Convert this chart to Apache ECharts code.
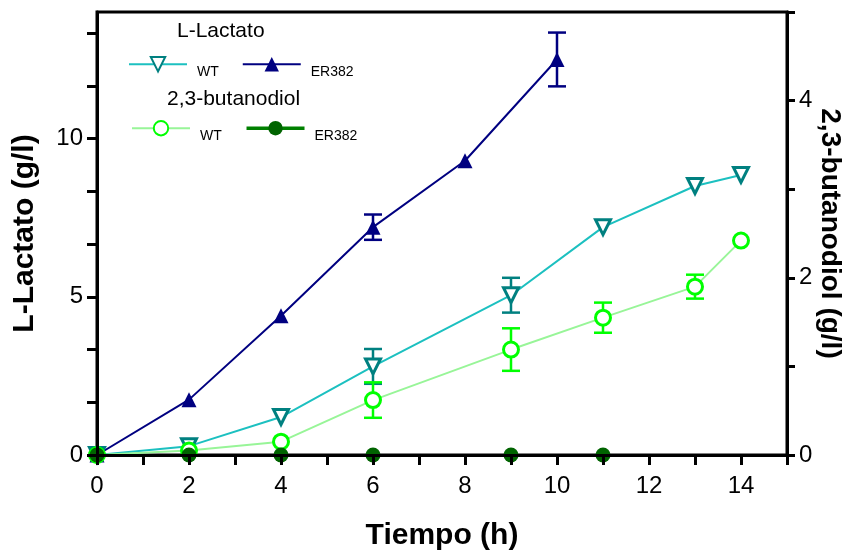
<!DOCTYPE html>
<html>
<head>
<meta charset="utf-8">
<script src="https://cdn.jsdelivr.net/npm/echarts@6/dist/echarts.min.js"></script>
<style>
  html, body { margin: 0; padding: 0; background: #fff; }
  #main { width: 850px; height: 552px; }
</style>
</head>
<body>
<div id="main"></div>
<script>
// time points (h)
var timeWT = [0, 2, 4, 6, 9, 11, 13, 14];
var timeLacER = [0, 2, 4, 6, 8, 10];
var timeButER = [0, 2, 4, 6, 9, 11];

// L-Lactato (g/l)
var lacWT = [0, 0.28, 1.2, 2.8, 5.05, 7.2, 8.5, 8.85];
var lacWTErr = [0, 0, 0, 0.55, 0.55, 0, 0, 0];
var lacER = [0, 1.75, 4.4, 7.2, 9.3, 12.5];
var lacERErr = [0, 0, 0, 0.4, 0, 0.85];

// 2,3-butanodiol (g/l)
var butWT = [0, 0.05, 0.15, 0.62, 1.19, 1.55, 1.9, 2.42];
var butWTErr = [0, 0, 0, 0.2, 0.24, 0.17, 0.135, 0];
var butER = [0, 0, 0, 0, 0, 0];

// ticks and labels
var xTicks = [0, 1, 2, 3, 4, 5, 6, 7, 8, 9, 10, 11, 12, 13, 14, 15];
var xLabels = [0, 2, 4, 6, 8, 10, 12, 14];
var lacTicks = [0, 5 / 3, 10 / 3, 5, 20 / 3, 25 / 3, 10, 35 / 3, 40 / 3];
var lacLabels = [0, 5, 10];
var butTicks = [0, 1, 2, 3, 4, 5];
var butLabels = [0, 2, 4];

var legendNames = { lacWT: 'WT', lacER: 'ER382', butWT: 'WT', butER: 'ER382' };

function pairs(xs, ys) {
    return xs.map(function (x, i) { return [x, ys[i]]; });
}

function errorBars(xs, ys, es, yIdx, color) {
    var data = [];
    xs.forEach(function (x, i) {
        if (es[i] > 0) data.push([x, ys[i] - es[i], ys[i] + es[i]]);
    });
    return {
        type: 'custom',
        yAxisIndex: yIdx,
        z: 1,
        silent: true,
        data: data,
        encode: { x: 0, y: [1, 2] },
        renderItem: function (params, api) {
            var x = api.value(0);
            var lo = api.coord([x, api.value(1)]);
            var hi = api.coord([x, api.value(2)]);
            var w = 9;
            var st = { stroke: color, lineWidth: 2.5 };
            return {
                type: 'group',
                children: [
                    { type: 'line', shape: { x1: lo[0], y1: lo[1], x2: hi[0], y2: hi[1] }, style: st },
                    { type: 'line', shape: { x1: hi[0] - w, y1: hi[1], x2: hi[0] + w, y2: hi[1] }, style: st },
                    { type: 'line', shape: { x1: lo[0] - w, y1: lo[1], x2: lo[0] + w, y2: lo[1] }, style: st }
                ]
            };
        }
    };
}

var chart = echarts.init(document.getElementById('main'));

var font = 'Liberation Sans, Arial, sans-serif';

var legendText = {
    fontFamily: font,
    fontSize: 14,
    color: '#000',
    rich: { t: { fontFamily: font, fontSize: 14, color: '#000', padding: [16, 0, 0, 5] } }
};

function legendFmt(n) { return '{t|' + legendNames[n] + '}'; }

var tickStyle = { color: '#000', width: 3 };
var labelStyle = { fontFamily: font, fontSize: 24, color: '#000' };
var nameStyle = { fontFamily: font, fontSize: 30, fontWeight: 'bold', color: '#000' };

var option = {
    backgroundColor: '#fff',
    animation: false,
    textStyle: { fontFamily: font },
    grid: {
        left: 97, right: 63, top: 12, bottom: 97,
        outerBoundsMode: 'none',
        show: true, borderColor: '#000', borderWidth: 3, backgroundColor: 'transparent'
    },
    graphic: [
        { type: 'text', left: 177, top: 21, style: { text: 'L-Lactato', font: '21px ' + font, fill: '#000' } },
        { type: 'text', left: 167, top: 89, style: { text: '2,3-butanodiol', font: '21px ' + font, fill: '#000' } }
    ],
    legend: [
        {
            left: 123, top: 51,
            itemWidth: 58, itemHeight: 18, itemGap: 23,
            data: ['lacWT', 'lacER'],
            formatter: legendFmt,
            textStyle: legendText
        },
        {
            left: 126, top: 115,
            itemWidth: 58, itemHeight: 18, itemGap: 23,
            data: ['butWT', { name: 'butER', lineStyle: { color: '#008000', width: 3.5, opacity: 1 } }],
            formatter: legendFmt,
            textStyle: legendText
        }
    ],
    xAxis: {
        type: 'value',
        min: 0, max: 15,
        z: 10,
        name: 'Tiempo (h)',
        nameLocation: 'middle',
        nameGap: 66,
        nameTextStyle: nameStyle,
        axisLine: { onZero: false, lineStyle: { color: '#000', width: 3 } },
        axisTick: { length: 10, customValues: xTicks, lineStyle: tickStyle },
        axisLabel: Object.assign({ margin: 19, customValues: xLabels }, labelStyle),
        splitLine: { show: false }
    },
    yAxis: [
        {
            type: 'value',
            min: 0, max: 14,
            z: 10,
            name: 'L-Lactato (g/l)',
            nameLocation: 'middle',
            nameGap: 57,
            nameTextStyle: nameStyle,
            axisLine: { show: true, lineStyle: { color: '#000', width: 3 } },
            axisTick: { length: 10, customValues: lacTicks, lineStyle: tickStyle },
            axisLabel: Object.assign({ margin: 14, customValues: lacLabels }, labelStyle),
            splitLine: { show: false }
        },
        {
            type: 'value',
            position: 'right',
            min: 0, max: 5,
            z: 10,
            name: '2,3-butanodiol (g/l)',
            nameLocation: 'middle',
            nameRotate: -90,
            nameGap: 29,
            nameMoveOverlap: false,
            nameTextStyle: Object.assign({}, nameStyle, { fontSize: 28 }),
            axisLine: { show: true, lineStyle: { color: '#000', width: 3 } },
            axisTick: { length: 8, customValues: butTicks, lineStyle: tickStyle },
            axisLabel: Object.assign({ margin: 12, customValues: butLabels }, labelStyle),
            splitLine: { show: false }
        }
    ],
    series: [
        errorBars(timeLacER, lacER, lacERErr, 0, '#000080'),
        errorBars(timeWT, lacWT, lacWTErr, 0, '#008080'),
        errorBars(timeWT, butWT, butWTErr, 1, '#00ff00'),
        {
            name: 'lacWT', type: 'line', yAxisIndex: 0,
            data: pairs(timeWT, lacWT),
            symbol: 'triangle', symbolRotate: 180, symbolSize: 15,
            lineStyle: { color: '#1cc0c0', width: 2 },
            itemStyle: { color: '#fff', borderColor: '#008080', borderWidth: 3 }
        },
        {
            name: 'lacER', type: 'line', yAxisIndex: 0,
            data: pairs(timeLacER, lacER),
            symbol: 'triangle', symbolSize: 15,
            lineStyle: { color: '#000080', width: 2 },
            itemStyle: { color: '#000080' }
        },
        {
            name: 'butWT', type: 'line', yAxisIndex: 1,
            data: pairs(timeWT, butWT),
            symbol: 'circle', symbolSize: 15,
            lineStyle: { color: '#98f598', width: 2 },
            itemStyle: { color: '#fff', borderColor: '#00ff00', borderWidth: 3 }
        },
        {
            name: 'butER', type: 'line', yAxisIndex: 1,
            data: pairs(timeButER, butER),
            symbol: 'circle', symbolSize: 15,
            lineStyle: { color: '#008000', width: 3.5, opacity: 0 },
            itemStyle: { color: '#006400' }
        }
    ]
};

chart.setOption(option);
</script>
</body>
</html>
